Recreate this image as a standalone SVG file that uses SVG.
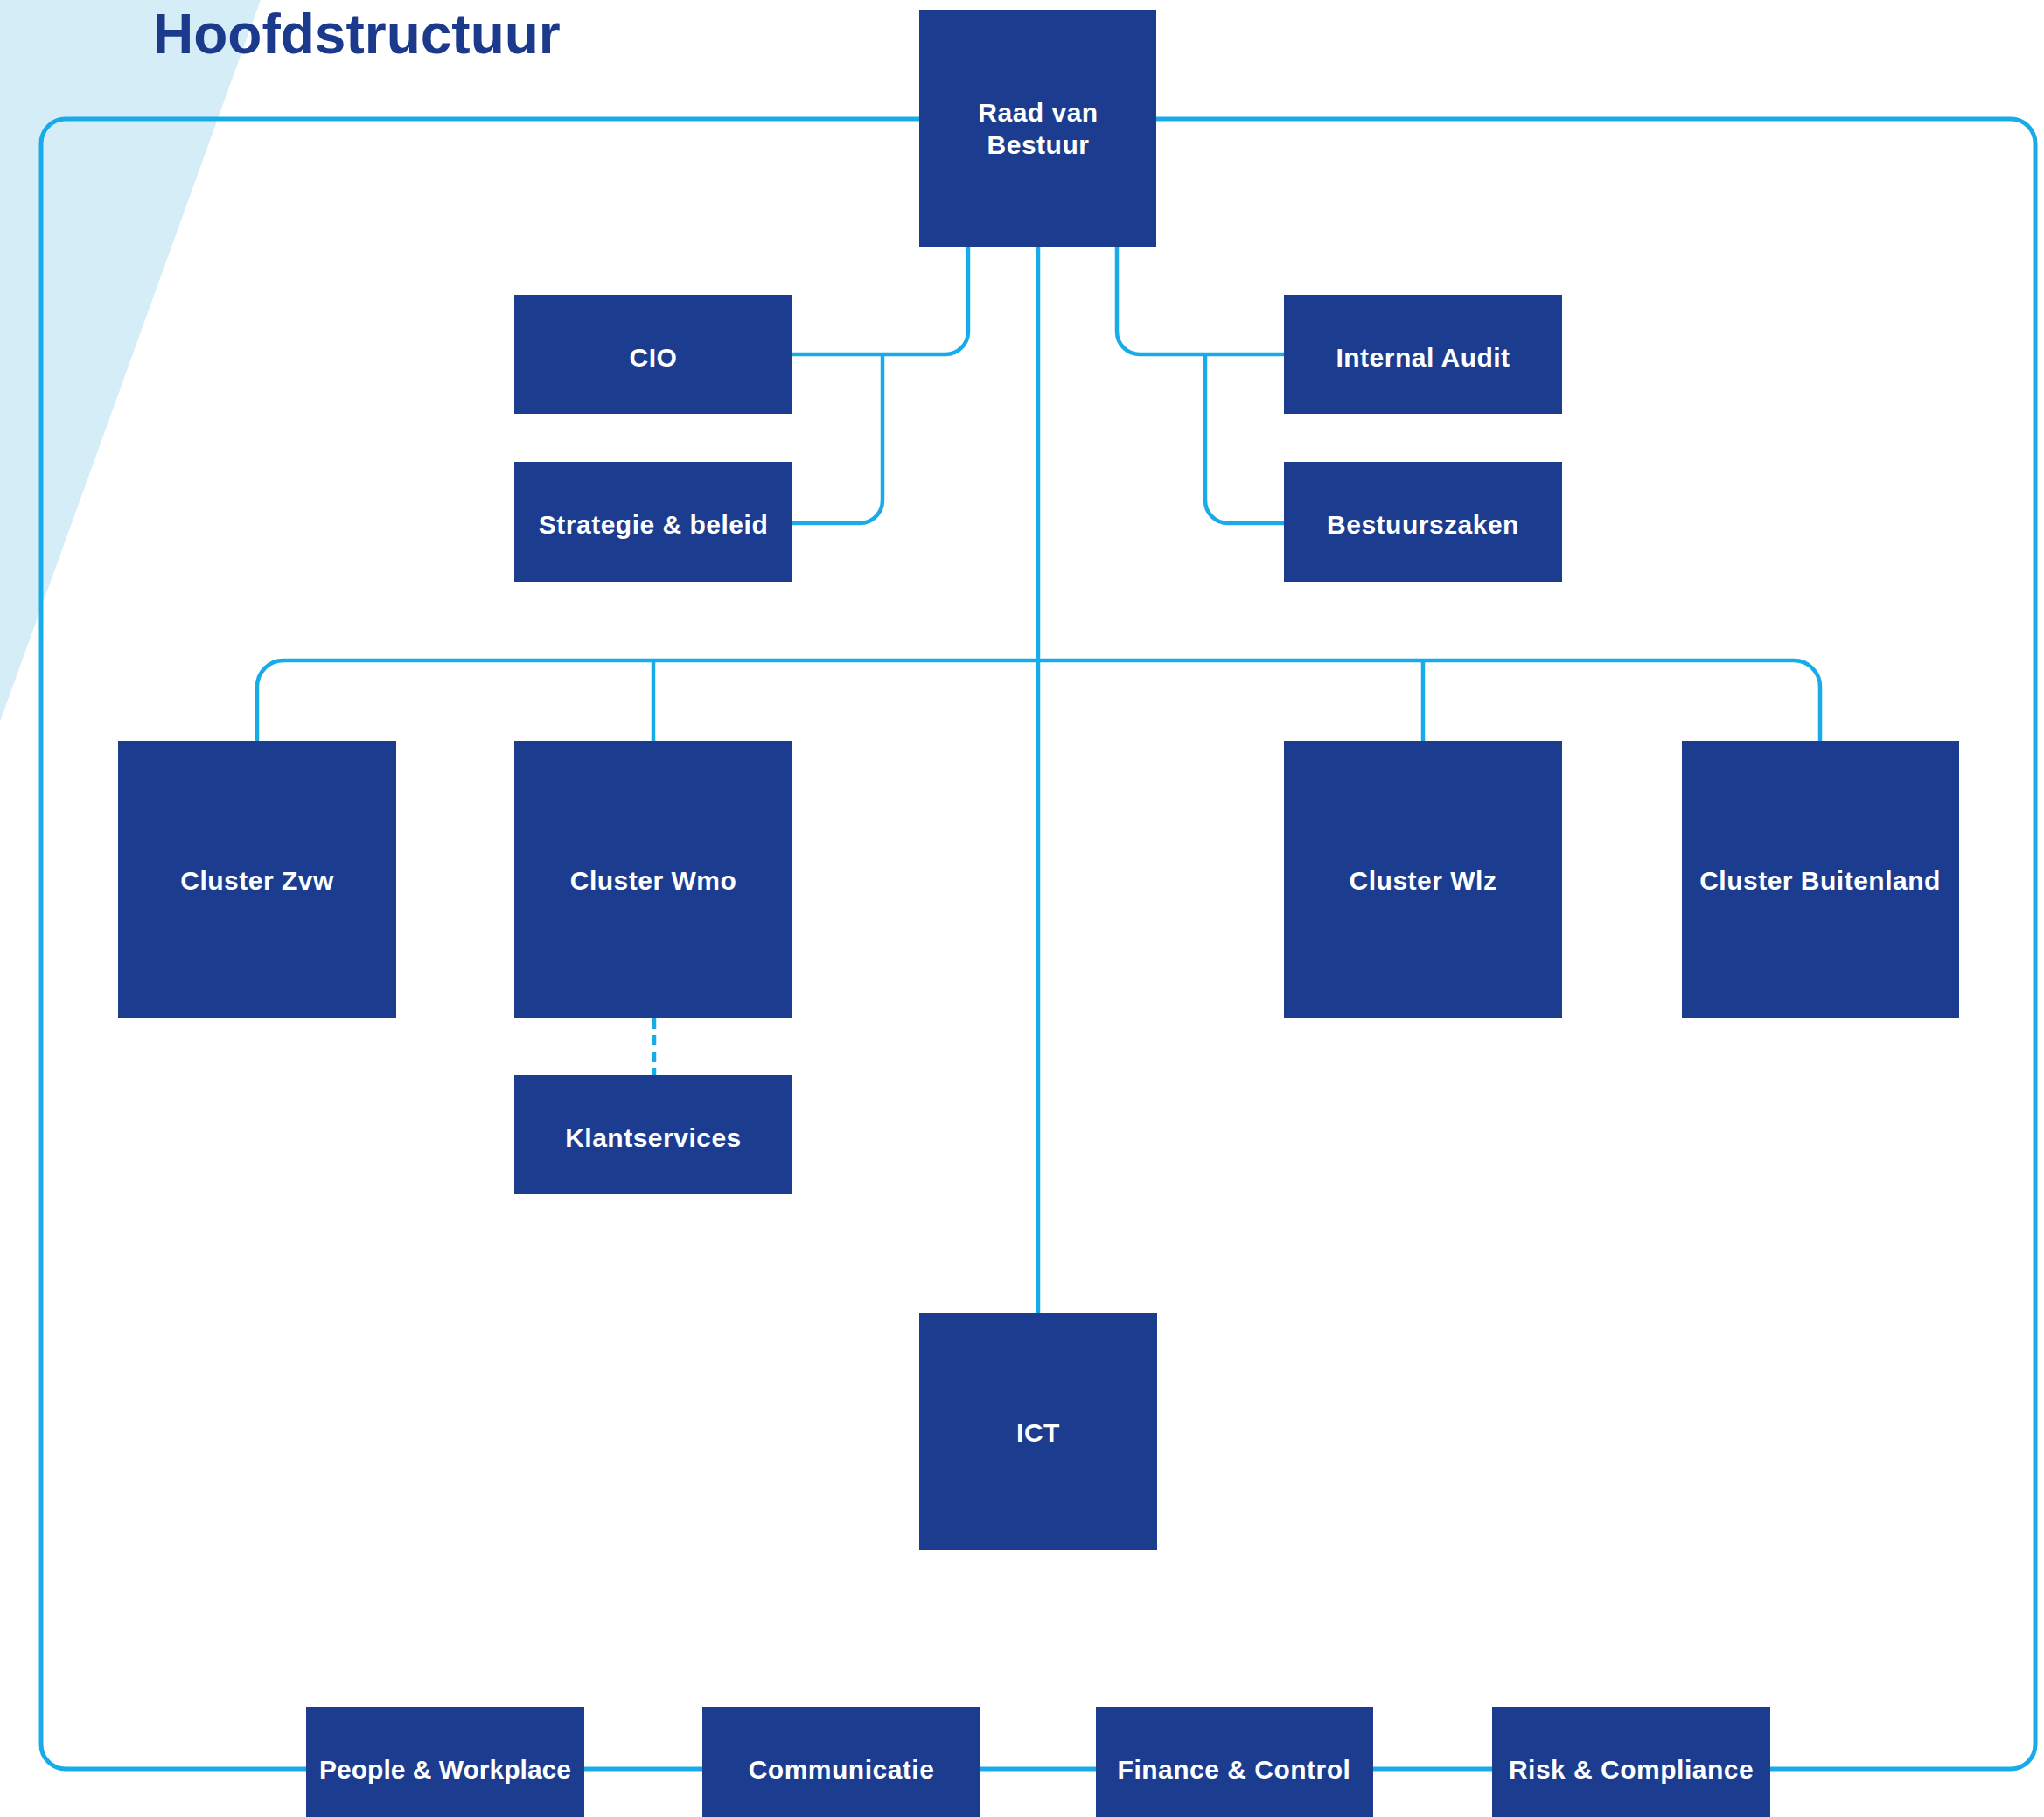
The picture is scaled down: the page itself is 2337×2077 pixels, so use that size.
<svg xmlns="http://www.w3.org/2000/svg" width="2337" height="2077" viewBox="0 0 2337 2077">
<style>
.box{fill:#1c3d8f}
.lbl{font-family:"Liberation Sans",Arial,sans-serif;font-weight:bold;font-size:30px;fill:#ffffff;text-anchor:middle;letter-spacing:0.5px}
.ln{fill:none;stroke:#18abea;stroke-width:4.5}
.loop{fill:none;stroke:#18abea;stroke-width:5}
.title{font-family:"Liberation Sans",Arial,sans-serif;font-weight:bold;font-size:64px;fill:#1c3a8c}
</style>
<rect x="0" y="0" width="2337" height="2077" fill="#ffffff"/>
<polygon points="0,0 298,0 0,825" fill="#d5edf7"/>
<text class="title" x="175" y="61">Hoofdstructuur</text>
<g id="connectors">
<rect class="loop" x="47" y="136" width="2280" height="1886" rx="28" ry="28"/>
<path class="ln" d="M1187 282 V1501"/>
<path class="ln" d="M1107 282 V379 A26 26 0 0 1 1081 405 H906"/>
<path class="ln" d="M1009 405 V572 A26 26 0 0 1 983 598 H906"/>
<path class="ln" d="M1277 282 V379 A26 26 0 0 0 1303 405 H1468"/>
<path class="ln" d="M1378 405 V572 A26 26 0 0 0 1404 598 H1468"/>
<path class="ln" d="M294 847 V785 A30 30 0 0 1 324 755 H2051 A30 30 0 0 1 2081 785 V847"/>
<path class="ln" d="M747 755 V847"/>
<path class="ln" d="M1627 755 V847"/>
<path class="ln" d="M748 1164 V1229" stroke-dasharray="12 7"/>
</g>
<g id="raad"><rect class="box" x="1051" y="11" width="271" height="271"/><text class="lbl" x="1187" y="139">Raad van</text><text class="lbl" x="1187" y="176">Bestuur</text></g>
<g id="cio"><rect class="box" x="588" y="337" width="318" height="136"/><text class="lbl" x="747" y="419">CIO</text></g>
<g id="strategie"><rect class="box" x="588" y="528" width="318" height="137"/><text class="lbl" x="747" y="610">Strategie &amp; beleid</text></g>
<g id="internal-audit"><rect class="box" x="1468" y="337" width="318" height="136"/><text class="lbl" x="1627" y="419">Internal Audit</text></g>
<g id="bestuurszaken"><rect class="box" x="1468" y="528" width="318" height="137"/><text class="lbl" x="1627" y="610">Bestuurszaken</text></g>
<g id="cluster-zvw"><rect class="box" x="135" y="847" width="318" height="317"/><text class="lbl" x="294" y="1017">Cluster Zvw</text></g>
<g id="cluster-wmo"><rect class="box" x="588" y="847" width="318" height="317"/><text class="lbl" x="747" y="1017">Cluster Wmo</text></g>
<g id="cluster-wlz"><rect class="box" x="1468" y="847" width="318" height="317"/><text class="lbl" x="1627" y="1017">Cluster Wlz</text></g>
<g id="cluster-buitenland"><rect class="box" x="1923" y="847" width="317" height="317"/><text class="lbl" x="2081" y="1017">Cluster Buitenland</text></g>
<g id="klantservices"><rect class="box" x="588" y="1229" width="318" height="136"/><text class="lbl" x="747" y="1311">Klantservices</text></g>
<g id="ict"><rect class="box" x="1051" y="1501" width="272" height="271"/><text class="lbl" x="1187" y="1648">ICT</text></g>
<g id="people"><rect class="box" x="350" y="1951" width="318" height="130"/><text class="lbl" x="509" y="2033" style="letter-spacing:0">People &amp; Workplace</text></g>
<g id="communicatie"><rect class="box" x="803" y="1951" width="318" height="130"/><text class="lbl" x="962" y="2033">Communicatie</text></g>
<g id="finance"><rect class="box" x="1253" y="1951" width="317" height="130"/><text class="lbl" x="1411" y="2033">Finance &amp; Control</text></g>
<g id="risk"><rect class="box" x="1706" y="1951" width="318" height="130"/><text class="lbl" x="1865" y="2033">Risk &amp; Compliance</text></g>
</svg>
